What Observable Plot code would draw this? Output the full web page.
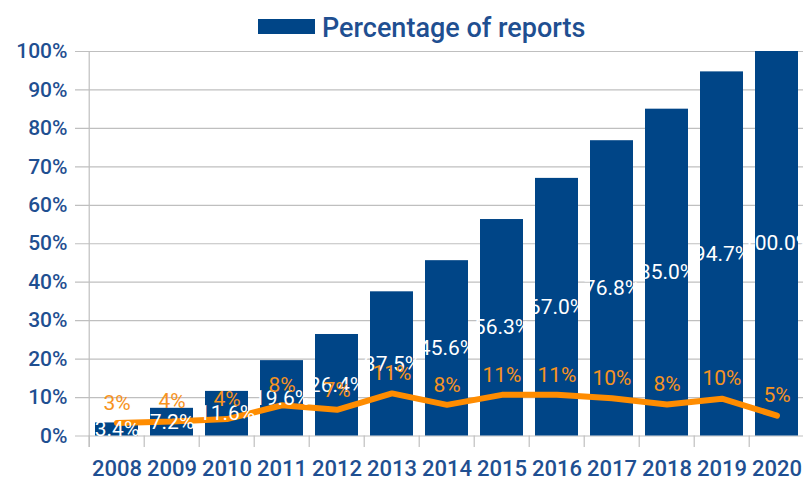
<!DOCTYPE html>
<html>
<head>
<meta charset="utf-8">
<script src="https://cdn.jsdelivr.net/npm/d3@7"></script>
<script src="https://cdn.jsdelivr.net/npm/@observablehq/plot@0.6"></script>
<style>
  html, body { margin: 0; padding: 0; background: #fff; }
  #wrap { position: relative; width: 803px; height: 480px; overflow: hidden; }
  #legend { position: absolute; left: 0; top: 0; width: 803px; height: 45px; z-index: 2; font-family: Roboto, sans-serif; }
  #legend .sw { position: absolute; left: 258px; top: 19px; width: 57px; height: 15px; background: #004587; }
  #legend .lb { position: absolute; left: 322px; top: 12px; font-size: 27px; line-height: 32px; color: #1f4f91; font-weight: 500; white-space: nowrap; }
  #chart { position: absolute; left: 0; top: 0; }
</style>
</head>
<body>
<div id="wrap">
  <div id="legend"><div class="sw"></div><div class="lb">Percentage of reports</div></div>
  <div id="chart"></div>
</div>
<script>
const years = ["2008","2009","2010","2011","2012","2013","2014","2015","2016","2017","2018","2019","2020"];
const cumulative = [3.4, 7.2, 11.6, 19.6, 26.4, 37.5, 45.6, 56.3, 67.0, 76.8, 85.0, 94.7, 100.0];
const barLabels = ["3.4%","7.2%","11.6%","19.6%","26.4%","37.5%","45.6%","56.3%","67.0%","76.8%","85.0%","94.7%","100.0%"];
const annual = [3.4, 3.8, 4.4, 8.0, 6.8, 11.1, 8.1, 10.7, 10.7, 9.8, 8.2, 9.7, 5.3];
const annualLabels = ["3%","4%","4%","8%","7%","11%","8%","11%","11%","10%","8%","10%","5%"];
const yTicks = [0, 10, 20, 30, 40, 50, 60, 70, 80, 90, 100];

const rows = years.map((year, i) => ({
  year, cum: cumulative[i], barLabel: barLabels[i], ann: annual[i], annLabel: annualLabels[i]
}));

const W = 803, H = 480, mL = 85, mR = -4.5, mT = 51, mB = 44.5;
const step = (W - mL - mR) / years.length;
const blue = "#004587", textBlue = "#1f4f91", grid = "#bfbfbf";

const chart = Plot.plot({
  width: W, height: H,
  marginLeft: mL, marginRight: mR, marginTop: mT, marginBottom: mB,
  style: { fontFamily: "Roboto, sans-serif", background: "white", overflow: "hidden" },
  x: { domain: years, paddingInner: 0.226, paddingOuter: 0.113, label: null },
  y: { domain: [0, 100], label: null },
  marks: [
    Plot.ruleY(yTicks, { stroke: grid, strokeWidth: 1.2, insetLeft: -10 }),
    Plot.ruleX([years[0]], { dx: -step / 2, y1: -3, y2: 100, stroke: grid, strokeWidth: 1.2 }),
    Plot.ruleX(years, { dx: -step / 2, y1: -3, y2: 0, stroke: grid, strokeWidth: 1.2 }),
    Plot.axisY(yTicks, { tickSize: 0, tickPadding: 18, color: textBlue, fontSize: 21, fontWeight: 500, tickFormat: d => d + "%", label: null }),
    Plot.axisX({ tickSize: 0, tickPadding: 24, color: textBlue, fontSize: 22, fontWeight: 500, label: null }),
    Plot.barY(rows, { x: "year", y: "cum", fill: blue }),
    Plot.line(rows, { x: "year", y: "ann", stroke: "#ff8c00", strokeWidth: 6, strokeLinejoin: "miter" }),
    Plot.text(rows, { x: "year", y: d => d.cum / 2, text: "barLabel", fill: "white", fontSize: 21 }),
    Plot.text(rows, { x: "year", y: "ann", text: "annLabel", dy: -20, fill: "#f7931e", fontSize: 21 })
  ]
});
document.getElementById("chart").appendChild(chart);
</script>
</body>
</html>
